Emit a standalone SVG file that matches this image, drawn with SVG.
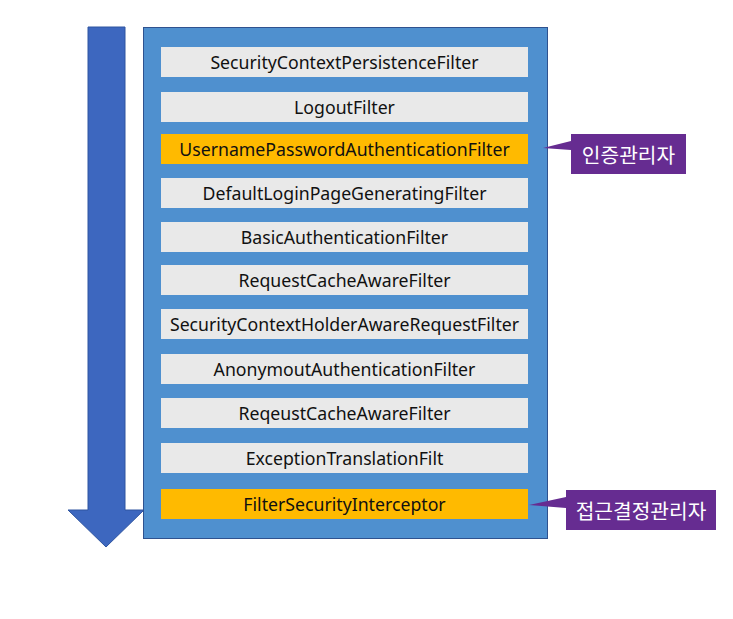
<svg xmlns="http://www.w3.org/2000/svg" width="733" height="619" viewBox="0 0 733 619">
<style>
.f{fill:#E9E9E9}
.o{fill:#FFBA00}
.t{font-family:"Noto Sans","Noto Sans CJK KR",sans-serif;font-size:17.7px;fill:#111;text-anchor:middle;dominant-baseline:central}
.c{fill:#662C91}
.ct{font-family:"Noto Sans CJK KR",sans-serif;font-size:20.3px;fill:#fff;text-anchor:middle;dominant-baseline:central}
</style>
<rect width="733" height="619" fill="#fff"/>
<g id="connectors">
<path id="flow-arrow" d="M88 27 H125 V510 H144 L106 547 L68 510 H88 Z" fill="#3D67BF" stroke="#2F55A0" stroke-width="1"/>
</g>
<g id="chain">
<rect x="143.5" y="27.5" width="404" height="511" fill="#4F90CF" stroke="#2F528F" stroke-width="1"/>
</g>
<g id="n1"><rect class="f" x="161" y="47" width="367" height="30"/><text class="t" x="344.5" y="62">SecurityContextPersistenceFilter</text></g>
<g id="n2"><rect class="f" x="161" y="92" width="367" height="30"/><text class="t" x="344.5" y="107">LogoutFilter</text></g>
<g id="n3"><rect class="o" x="161" y="134" width="367" height="30"/><text class="t" x="344.5" y="149">UsernamePasswordAuthenticationFilter</text></g>
<g id="n4"><rect class="f" x="161" y="178" width="367" height="30"/><text class="t" x="344.5" y="193">DefaultLoginPageGeneratingFilter</text></g>
<g id="n5"><rect class="f" x="161" y="222" width="367" height="30"/><text class="t" x="344.5" y="237">BasicAuthenticationFilter</text></g>
<g id="n6"><rect class="f" x="161" y="265" width="367" height="30"/><text class="t" x="344.5" y="280">RequestCacheAwareFilter</text></g>
<g id="n7"><rect class="f" x="161" y="309" width="367" height="30"/><text class="t" x="344.5" y="324">SecurityContextHolderAwareRequestFilter</text></g>
<g id="n8"><rect class="f" x="161" y="354" width="367" height="30"/><text class="t" x="344.5" y="369">AnonymoutAuthenticationFilter</text></g>
<g id="n9"><rect class="f" x="161" y="398" width="367" height="30"/><text class="t" x="344.5" y="413">ReqeustCacheAwareFilter</text></g>
<g id="n10"><rect class="f" x="161" y="443" width="367" height="30"/><text class="t" x="344.5" y="458">ExceptionTranslationFilt</text></g>
<g id="n11"><rect class="o" x="161" y="489" width="367" height="30"/><text class="t" x="344.5" y="504">FilterSecurityInterceptor</text></g>
<g id="callout1"><path class="c" d="M571 134 H686 V174 H571 V150 L543 148 L571 141 Z"/><text class="ct" x="628.5" y="154">인증관리자</text></g>
<g id="callout2"><path class="c" d="M566 490 H716 V530 H566 V508 L529 505 L566 497 Z"/><text class="ct" x="641" y="510">접근결정관리자</text></g>
</svg>
